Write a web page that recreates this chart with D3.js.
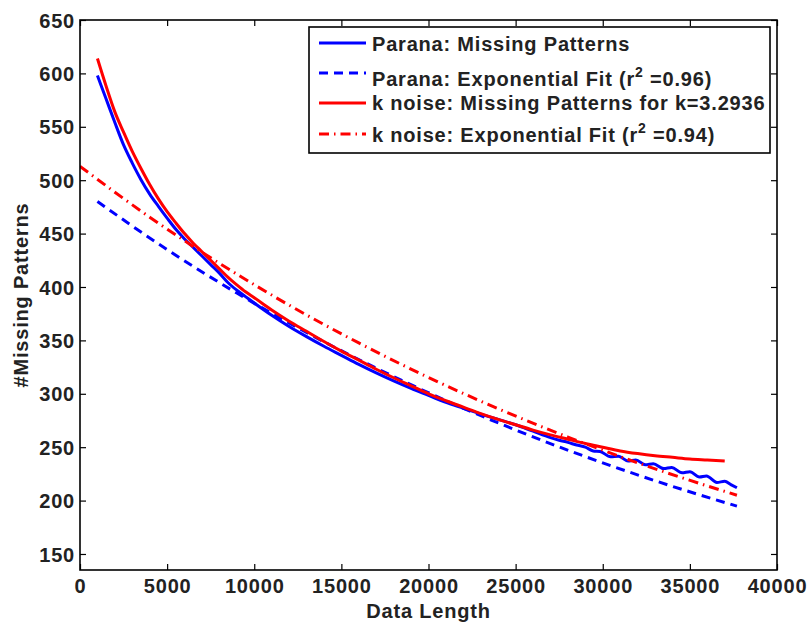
<!DOCTYPE html>
<html>
<head>
<meta charset="utf-8">
<script src="https://cdn.jsdelivr.net/npm/d3@7"></script>
<style>
  html, body { margin: 0; padding: 0; background: #fff; }
  svg { display: block; }
  text { font-family: "Liberation Sans", Arial, Helvetica, sans-serif; font-weight: bold; fill: #222; letter-spacing: 0.8px; }
</style>
</head>
<body>
<svg id="chart" width="810" height="626"></svg>
<script>
// ---- data ----
const xTicks = [0, 5000, 10000, 15000, 20000, 25000, 30000, 35000, 40000];
const yTicks = [150, 200, 250, 300, 350, 400, 450, 500, 550, 600, 650];

// Parana: Missing Patterns
const paranaLength = [1000,1500,2000,2500,3000,3500,4000,4500,5000,5500,6000,6500,7000,7500,8000,8500,9000,9500,10000,
  11000,12000,13000,14000,15000,16000,17000,18000,19000,20000,21000,22000,23000,24000,25000,26000,
  27000,27500,28000,28500,29000,29450,29850,30450,30900,31450,31900,32450,32900,33500,33950,34550,35000,35550,35950,36550,37000,37350,37700];
const paranaMissing = [598,576,554,533,516,500.5,487,475.5,464.5,454,445,437,429,421,413,404,397,391,385,
  373.5,363,353.5,344.5,336,327.5,319.5,312,305,298.5,292,286.5,281,276,271,265,
  259,256.5,254.5,252,250,246.5,246,241,241.5,237,238,233.5,234.5,230,231,226,227,222,223,217,218,215,212];

// Parana: Exponential Fit
const paranaFitLength = [1000,5000,9000,13000,17000,21000,25000,29000,33000,37700];
const paranaFit = [480,435,394.3,357.4,324,293.6,266.1,241.2,218.6,194.8];

// k noise: Missing Patterns for k=3.2936
const noiseLength = [1000,1500,2000,2500,3000,3500,4000,4500,5000,5500,6000,6500,7000,7500,8000,8500,9000,9500,10000,
  11000,12000,13000,14000,15000,16000,17000,18000,19000,20000,21000,22000,23000,24000,25000,26000,27000,28000,29000,30000,
  31000,32000,33000,34000,35000,36000,37000];
const noiseMissing = [614,588,564,545,527,511,496,482.5,470.5,460,450,441,433,425,417,409,402,395.5,390,
  378.5,368,358.5,349,340,331.5,323,315,307.5,300,293.5,287.5,281.5,276,271,266,261.5,257.5,253.5,250,
  246.5,244,242,240.5,239,238,237];

// k noise: Exponential Fit
const noiseFitLength = [0,4000,8000,12000,16000,20000,24000,28000,32000,37700];
const noiseFit = [513,465.4,422.2,383,347.6,315.3,286,259.5,235.4,205];

const legendLabels = [
  {main: "Parana: Missing Patterns"},
  {main: "Parana: Exponential Fit (r", sup: "2", rest: " =0.96)"},
  {main: "k noise: Missing Patterns for k=3.2936"},
  {main: "k noise: Exponential Fit (r", sup: "2", rest: " =0.94)"}
];

// ---- layout ----
const pLeft = 80, pRight = 777, pTop = 20, pBottom = 570;
const svg = d3.select("#chart");
svg.append("rect").attr("width", 810).attr("height", 626).attr("fill", "#fff");

const x = d3.scaleLinear().domain([0, 40000]).range([pLeft, pRight]);
const y = d3.scaleLinear().domain([135, 650]).range([pBottom, pTop]);

svg.append("clipPath").attr("id", "clip").append("rect")
  .attr("x", pLeft).attr("y", pTop).attr("width", pRight - pLeft).attr("height", pBottom - pTop);

const line = d3.line().x(d => x(d[0])).y(d => y(d[1])).curve(d3.curveMonotoneX);
const zip = (a, b) => a.map((v, i) => [v, b[i]]);

const series = [
  {data: zip(paranaLength, paranaMissing), color: "#0000ff", dash: null},
  {data: zip(paranaFitLength, paranaFit), color: "#0000ff", dash: "9,6"},
  {data: zip(noiseLength, noiseMissing), color: "#ff0000", dash: null},
  {data: zip(noiseFitLength, noiseFit), color: "#ff0000", dash: "10,5,1.5,5"}
];

const g = svg.append("g").attr("clip-path", "url(#clip)");
series.forEach(s => {
  g.append("path").datum(s.data)
    .attr("d", line)
    .attr("fill", "none")
    .attr("stroke", s.color)
    .attr("stroke-width", 3)
    .attr("stroke-dasharray", s.dash);
});

// axes (ticks inward on all four sides)
const tickLen = 6;
const axB = svg.append("g").attr("transform", `translate(0,${pBottom})`)
  .call(d3.axisBottom(x).tickValues(xTicks).tickFormat(d3.format("d")).tickSizeInner(-tickLen).tickSizeOuter(0).tickPadding(9));
const axT = svg.append("g").attr("transform", `translate(0,${pTop})`)
  .call(d3.axisTop(x).tickValues(xTicks).tickFormat("").tickSizeInner(-tickLen).tickSizeOuter(0));
const axL = svg.append("g").attr("transform", `translate(${pLeft},0)`)
  .call(d3.axisLeft(y).tickValues(yTicks).tickFormat(d3.format("d")).tickSizeInner(-tickLen).tickSizeOuter(0).tickPadding(5));
const axR = svg.append("g").attr("transform", `translate(${pRight},0)`)
  .call(d3.axisRight(y).tickValues(yTicks).tickFormat("").tickSizeInner(-tickLen).tickSizeOuter(0));

[axB, axT, axL, axR].forEach(a => {
  a.select(".domain").remove();
  a.selectAll(".tick line").attr("stroke", "#000").attr("stroke-width", 1.2);
  a.selectAll("text").attr("font-size", 20).attr("fill", "#222")
    .style("font-family", "'Liberation Sans', Arial, sans-serif").style("font-weight", "bold");
});
axL.selectAll("text").attr("dy", "0.36em").attr("x", -5);
axB.selectAll("text").attr("dy", "0.71em");

svg.append("rect").attr("x", pLeft).attr("y", pTop).attr("width", pRight - pLeft).attr("height", pBottom - pTop)
  .attr("fill", "none").attr("stroke", "#000").attr("stroke-width", 1.6);

// axis labels
svg.append("text").attr("x", (pLeft + pRight) / 2).attr("y", 618)
  .attr("text-anchor", "middle").attr("font-size", 20).text("Data Length");
svg.append("text").attr("transform", `translate(28,${(pTop + pBottom) / 2}) rotate(-90)`)
  .attr("text-anchor", "middle").attr("font-size", 20).text("#Missing Patterns");

// legend
const lg = svg.append("g");
lg.append("rect").attr("x", 309).attr("y", 27).attr("width", 461).attr("height", 126)
  .attr("fill", "#fff").attr("stroke", "#000").attr("stroke-width", 1.6);
const lineY = [43, 73, 103, 134];
const textY = [51, 86, 110, 142];
legendLabels.forEach((lab, i) => {
  const s = series[i];
  lg.append("line").attr("x1", 319).attr("x2", 366).attr("y1", lineY[i]).attr("y2", lineY[i])
    .attr("stroke", s.color).attr("stroke-width", 3).attr("stroke-dasharray", s.dash);
  const t = lg.append("text").attr("x", 372).attr("y", textY[i]).attr("font-size", 20);
  t.append("tspan").text(lab.main);
  if (lab.sup) {
    t.append("tspan").attr("dy", -9).attr("font-size", 14).text(lab.sup);
    t.append("tspan").attr("dy", 9).text(lab.rest);
  }
});
</script>
</body>
</html>
